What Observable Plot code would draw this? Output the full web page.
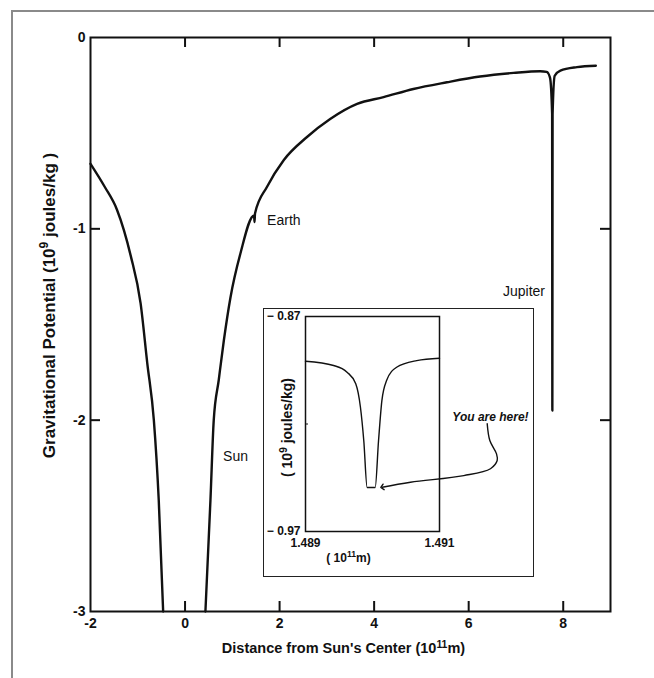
<!DOCTYPE html>
<html><head><meta charset="utf-8">
<script src="https://cdn.jsdelivr.net/npm/d3@7"></script>
<script src="https://cdn.jsdelivr.net/npm/@observablehq/plot@0.6"></script>
<style>
body{margin:0;background:#fff;width:654px;height:678px;overflow:hidden;position:relative;font-family:"Liberation Sans",Arial,sans-serif;}
#border{position:absolute;left:11px;top:10px;width:800px;height:800px;border-top:2px solid #8a8a8a;border-left:2px solid #8a8a8a;}
#main{position:absolute;left:0;top:0;}
#insetbox{position:absolute;left:263px;top:308px;width:271px;height:269px;box-sizing:border-box;border:1.5px solid #222;background:#fff;}
#inset{position:absolute;left:263px;top:308px;}
svg{display:block;}
</style></head><body>
<div id="border"></div>
<div id="main"></div>
<div id="insetbox"></div>
<div id="inset"></div>
<script>
// ---- main chart data (10^11 m, 10^9 J/kg) ----
const leftX = [-2, -1.7, -1.44, -1.15, -0.94, -0.8, -0.66, -0.556, -0.463];
const leftY = [-0.66, -0.78, -0.9, -1.14, -1.39, -1.70, -2.0, -2.42, -3.0];
const rightX = [0.431, 0.537, 0.607, 0.713, 0.82, 0.96, 1.17, 1.46, 1.47, 1.48, 1.735, 2.09, 2.58, 3.07, 3.64, 4.2, 4.83, 5.54, 6.24, 6.95, 7.51, 7.65, 7.72, 7.765, 7.77, 7.775, 7.82, 7.94, 8.29, 8.69];
const rightY = [-3.0, -2.42, -2.0, -1.79, -1.585, -1.36, -1.13, -0.93, -0.965, -0.92, -0.78, -0.64, -0.52, -0.426, -0.347, -0.312, -0.269, -0.234, -0.204, -0.185, -0.176, -0.18, -0.21, -0.40, -1.95, -0.40, -0.20, -0.173, -0.155, -0.148];
const xTickValues = [-2, 0, 2, 4, 6, 8];
const yTickValues = [0, -1, -2, -3];
const xInnerTicks = [0, 2, 4, 6, 8];
const yInnerTicks = [-1, -2];
const bodyNames = ["Earth", "Sun", "Jupiter"];
const bodyX = [1.736, 0.805, 6.725];
const bodyY = [-0.957, -2.19, -1.326];
const xTitle = "Distance from Sun's Center (10\u00B9\u00B9m)";
const yTitle = "Gravitational Potential (10\u2079 joules/kg )";

// ---- inset data ----
const insetX = [1.489, 1.48942, 1.48962, 1.48975, 1.48982, 1.48987, 1.48992, 1.49004, 1.49009, 1.49014, 1.49021, 1.49036, 1.49066, 1.491];
const insetY = [-0.8908, -0.8928, -0.8959, -0.9013, -0.9122, -0.9278, -0.9495, -0.9495, -0.9278, -0.9091, -0.8998, -0.8936, -0.8905, -0.8894];
const insetXTicks = [1.489, 1.491];
const insetYTicks = [-0.97, -0.87];
const insetMidTick = [-0.92];
const arrowX = [1.491712, 1.491751, 1.491851, 1.491861, 1.491761, 1.491363, 1.490567, 1.490145];
const arrowY = [-0.9199, -0.9277, -0.9339, -0.9370, -0.9408, -0.9440, -0.9471, -0.9494];
const hereText = ["You are here!"];
const hereX = [1.491761];
const hereY = [-0.917];
const insetXLabel = "( 10\u00B9\u00B9m)";
const insetYLabel = "( 10\u2079 joules/kg)";

const FONT = '"Liberation Sans", Arial, Helvetica, sans-serif';
const leftData = leftX.map((x, i) => ({x, y: leftY[i]}));
const rightData = rightX.map((x, i) => ({x, y: rightY[i]}));
const bodies = bodyNames.map((n, i) => ({n, x: bodyX[i], y: bodyY[i]}));

const W = 654, H = 678, mL = 90, mR = 44, mT = 37, mB = 67;
const pw = W - mL - mR, ph = H - mT - mB;

const main = Plot.plot({
  width: W, height: H,
  marginLeft: mL, marginRight: mR, marginTop: mT, marginBottom: mB,
  style: {fontFamily: FONT, background: "transparent", color: "#111"},
  x: {domain: [-2, 9]},
  y: {domain: [-3, 0]},
  marks: [
    Plot.line(leftData, {x: "x", y: "y", curve: "monotone-x", stroke: "#111", strokeWidth: 2.4}),
    Plot.line(rightData, {x: "x", y: "y", curve: "monotone-x", stroke: "#111", strokeWidth: 2.4}),
    Plot.frame({stroke: "#111", strokeWidth: 2}),
    Plot.tickX(xInnerTicks, {x: d => d, insetTop: ph - 10, stroke: "#111", strokeWidth: 2}),
    Plot.tickX(xInnerTicks, {x: d => d, insetBottom: ph - 10, stroke: "#111", strokeWidth: 2}),
    Plot.tickY(yInnerTicks, {y: d => d, insetRight: pw - 10, stroke: "#111", strokeWidth: 2}),
    Plot.tickY(yInnerTicks, {y: d => d, insetLeft: pw - 10, stroke: "#111", strokeWidth: 2}),
    Plot.axisX({ticks: xTickValues, tickSize: 0, tickPadding: 7, fontSize: 14, fontWeight: "bold", tickFormat: d => String(d), label: null}),
    Plot.axisY({ticks: yTickValues, tickSize: 0, tickPadding: 5, fontSize: 14, fontWeight: "bold", tickFormat: d => String(d), label: null}),
    Plot.text([xTitle], {text: d => d, frameAnchor: "bottom", textAnchor: "middle", dx: -7, dy: 37, fontSize: 14.5, fontWeight: "bold", lineAnchor: "middle"}),
    Plot.text([yTitle], {text: d => d, frameAnchor: "left", textAnchor: "middle", dx: -41, dy: -19, rotate: -90, fontSize: 17, fontWeight: "bold", lineAnchor: "middle"}),
    Plot.text(bodies, {x: "x", y: "y", text: "n", textAnchor: "start", fontSize: 14, lineAnchor: "middle"})
  ]
});
document.getElementById("main").appendChild(main);

const insetData = insetX.map((x, i) => ({x, y: insetY[i]}));
const arrowData = arrowX.map((x, i) => ({x, y: arrowY[i]}));
const iW = 271, iH = 269, iL = 42, iR = 95, iT = 8, iB = 46;
const ipw = iW - iL - iR;

const inset = Plot.plot({
  width: iW, height: iH,
  marginLeft: iL, marginRight: iR, marginTop: iT, marginBottom: iB,
  style: {fontFamily: FONT, background: "transparent", color: "#111", overflow: "visible"},
  x: {domain: [1.489, 1.491]},
  y: {domain: [-0.97, -0.87]},
  marks: [
    Plot.frame({stroke: "#111", strokeWidth: 1.5}),
    Plot.line(insetData, {x: "x", y: "y", curve: "monotone-x", stroke: "#111", strokeWidth: 1.4}),
    Plot.tickY(insetMidTick, {y: d => d, insetRight: ipw - 3, stroke: "#111", strokeWidth: 1}),
    Plot.axisX({ticks: insetXTicks, tickSize: 0, tickPadding: 7, fontSize: 12, fontWeight: "bold", tickFormat: d => d.toFixed(3), label: null}),
    Plot.axisY({ticks: insetYTicks, tickSize: 0, tickPadding: 5, fontSize: 12, fontWeight: "bold", tickFormat: d => "\u2212 " + Math.abs(d).toFixed(2), label: null}),
    Plot.text([insetXLabel], {text: d => d, frameAnchor: "bottom", textAnchor: "middle", dx: -24, dy: 27, fontSize: 12, fontWeight: "bold", lineAnchor: "middle"}),
    Plot.text([insetYLabel], {text: d => d, frameAnchor: "left", textAnchor: "middle", dx: -17.5, dy: 3.5, rotate: -90, fontSize: 14, fontWeight: "bold", lineAnchor: "middle"}),
    Plot.line(arrowData, {x: "x", y: "y", curve: "catmull-rom", stroke: "#111", strokeWidth: 1.4, markerEnd: "arrow"}),
    Plot.text(hereText, {x: () => hereX[0], y: () => hereY[0], text: d => d, fontSize: 12, fontWeight: "bold", fontStyle: "italic", lineAnchor: "middle"})
  ]
});
document.getElementById("inset").appendChild(inset);

// turn unicode superscript digits into raised tspans (larger, like the reference)
const SUP = {"\u2070":"0","\u00B9":"1","\u00B2":"2","\u00B3":"3","\u2074":"4","\u2075":"5","\u2076":"6","\u2077":"7","\u2078":"8","\u2079":"9"};
function fixSup(svg) {
  svg.querySelectorAll("text").forEach(t => {
    const tsp = t.querySelectorAll("tspan");
    const targets = tsp.length ? Array.from(tsp) : [t];
    targets.forEach(el => {
      const s = el.textContent;
      if (![...s].some(c => SUP[c])) return;
      const runs = [];
      for (const c of s) {
        const sup = !!SUP[c], ch = sup ? SUP[c] : c;
        if (runs.length && runs[runs.length - 1].sup === sup) runs[runs.length - 1].s += ch;
        else runs.push({sup, s: ch});
      }
      el.textContent = "";
      runs.forEach(r => {
        const ts = document.createElementNS("http://www.w3.org/2000/svg", "tspan");
        ts.textContent = r.s;
        if (r.sup) { ts.setAttribute("baseline-shift", "super"); ts.setAttribute("font-size", "72%"); }
        el.appendChild(ts);
      });
    });
  });
}
fixSup(main);
fixSup(inset);
</script>
</body></html>
